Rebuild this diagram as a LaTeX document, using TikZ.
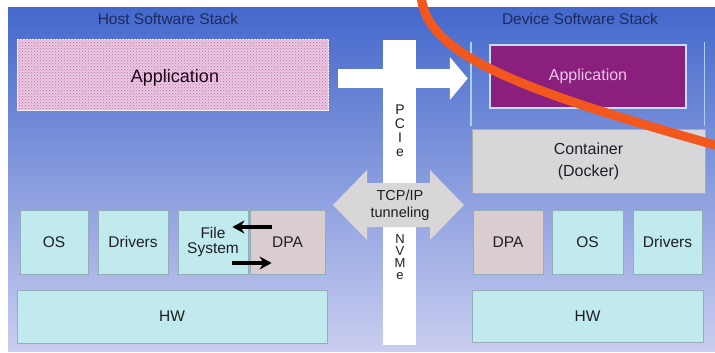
\documentclass[tikz,border=0pt]{standalone}
\usepackage{fontspec}
\setmainfont{Liberation Sans}
\usetikzlibrary{patterns,calc,arrows.meta}

\definecolor{bgtop}{HTML}{4468CC}
\definecolor{bgmid}{HTML}{839DE0}
\definecolor{bgbot}{HTML}{CACEF0}
\definecolor{boxcyan}{HTML}{C0EAEE}
\definecolor{boxedge}{HTML}{93AEB8}
\definecolor{dpafill}{HTML}{D9CDCF}
\definecolor{appmag}{HTML}{8A1F7E}
\definecolor{apppink}{HTML}{EBC8E3}
\definecolor{dotpink}{HTML}{B9709F}
\definecolor{swoosh}{HTML}{F2581E}
\definecolor{navy}{HTML}{1C2B5E}
\definecolor{tunnel}{HTML}{D9D6D7}
\definecolor{contgray}{HTML}{D7D7D9}
\definecolor{framecyan}{HTML}{A6D2EE}
\definecolor{labelink}{HTML}{1E1E24}

\tikzset{
  layer/.style={draw=boxedge, line width=0.8pt, fill=boxcyan, inner sep=0pt,
    text=labelink, align=center, font=\fontsize{15.5}{15}\selectfont},
  dpabox/.style={layer, fill=dpafill},
  stacktitle/.style={text=navy, font=\fontsize{15.5}{16}\selectfont},
  swapflow/.style={line width=3.4pt, black, -{Stealth[length=12pt,width=13pt]}},
  buslabel/.style={align=center, text=labelink, font=\fontsize{14}{14}\selectfont},
}

\begin{document}
\begin{tikzpicture}[x=1pt,y=-1pt]
\useasboundingbox (0,0) rectangle (715,353);
\clip (0,0) rectangle (715,353);

% backdrop
\fill[white] (0,0) rectangle (715,353);
\shade[top color=bgtop, middle color=bgmid, bottom color=bgbot]
  (8,8) rectangle (715,351);

% stack titles
\node[stacktitle] (htitle) at (168,19) {Host Software Stack};
\node[stacktitle] (dtitle) at (580,19) {Device Software Stack};

% host application
\node[inner sep=0pt, minimum width=311pt, minimum height=70pt,
  fill=apppink, draw=white!85!apppink, line width=1pt] (happ) at (172.5,75) {};
\fill[pattern=crosshatch dots, pattern color=dotpink]
  (happ.north west) rectangle (happ.south east);
\node[text=black!80!appmag, font=\fontsize{18}{18}\selectfont] (happtxt) at (175,78) {Application};

% device frame (side rails only) and application
\node[inner sep=0pt, minimum width=233pt, minimum height=84pt] (dframe) at (587.5,84) {};
\draw[framecyan, line width=1.4pt] (dframe.north west) -- (dframe.south west)
  (dframe.north east) -- (dframe.south east);
\node[inner sep=0pt, minimum width=196pt, minimum height=63pt,
  fill=appmag, draw=framecyan!70!white, line width=1.6pt,
  text=apppink, font=\fontsize{16}{16}\selectfont] (dapp) at (588,76.5) {Application};

% container
\node[layer, fill=contgray, draw=contgray!80!black,
  minimum width=233pt, minimum height=64pt, font=\fontsize{16}{22}\selectfont]
  (dcont) at (588.5,161) {Container\\(Docker)};

% host lower layers
\node[layer, minimum width=68pt, minimum height=64pt] (hos)  at (54,242)  {OS};
\node[layer, minimum width=70pt, minimum height=64pt] (hdrv) at (133,242) {Drivers};
\node[layer, minimum width=70pt, minimum height=64pt] (hfs)  at (213,242) {File\\System};
\node[dpabox, minimum width=75pt, minimum height=64pt] (hdpa) at (287.5,242) {DPA};
\node[layer, minimum width=310pt, minimum height=53pt] (hhw) at (172,316.5) {HW};

% device lower layers
\node[dpabox, minimum width=70pt, minimum height=64pt] (ddpa) at (508,242)   {DPA};
\node[layer,  minimum width=71pt, minimum height=64pt] (dos)  at (587.5,242) {OS};
\node[layer,  minimum width=69pt, minimum height=64pt] (ddrv) at (667.5,242) {Drivers};
\node[layer,  minimum width=231pt, minimum height=52pt] (dhw) at (587.5,316) {HW};

% file system <-> DPA exchange
\draw[swapflow] ($(hdpa.west)+(22,-15)$) -- ($(hfs.east)+(-16,-15)$);
\draw[swapflow] ($(hfs.east)+(-16,21)$) -- ($(hdpa.west)+(22,21)$);

% host app to device app
\draw[white, line width=19pt, -{Triangle[length=18pt,width=42pt]}]
  ($(happ.east)+(9,3.5)$) -- ($(dframe.west)+(-3,-5.5)$);

% PCIe / NVMe link
\node[fill=white, inner sep=0pt, minimum width=33pt, minimum height=305pt] (bus) at (399.5,192.5) {};
\node[buslabel] (pcie) at (400,131) {P\\C\\I\\e};
\node[buslabel, font=\fontsize{13}{12}\selectfont] (nvme) at (400,257) {N\\V\\M\\e};

% TCP/IP tunnel
\coordinate (tl) at (333,205);
\coordinate (tr) at (464,205);
\fill[tunnel] (tl) -- (367,170) -- (367,183) -- (430,183) -- (430,170) -- (tr)
  -- (430,240) -- (430,227) -- (367,227) -- (367,240) -- cycle;
\node[align=center, text=labelink, font=\fontsize{14.5}{17}\selectfont] (tcp) at (400,205.5) {TCP/IP\\tunneling};

% orange swoosh
\draw[swoosh, line width=9pt, line cap=round]
  (421,-6) .. controls (424,55) and (520,90) .. (722,147);
\end{tikzpicture}
\end{document}
